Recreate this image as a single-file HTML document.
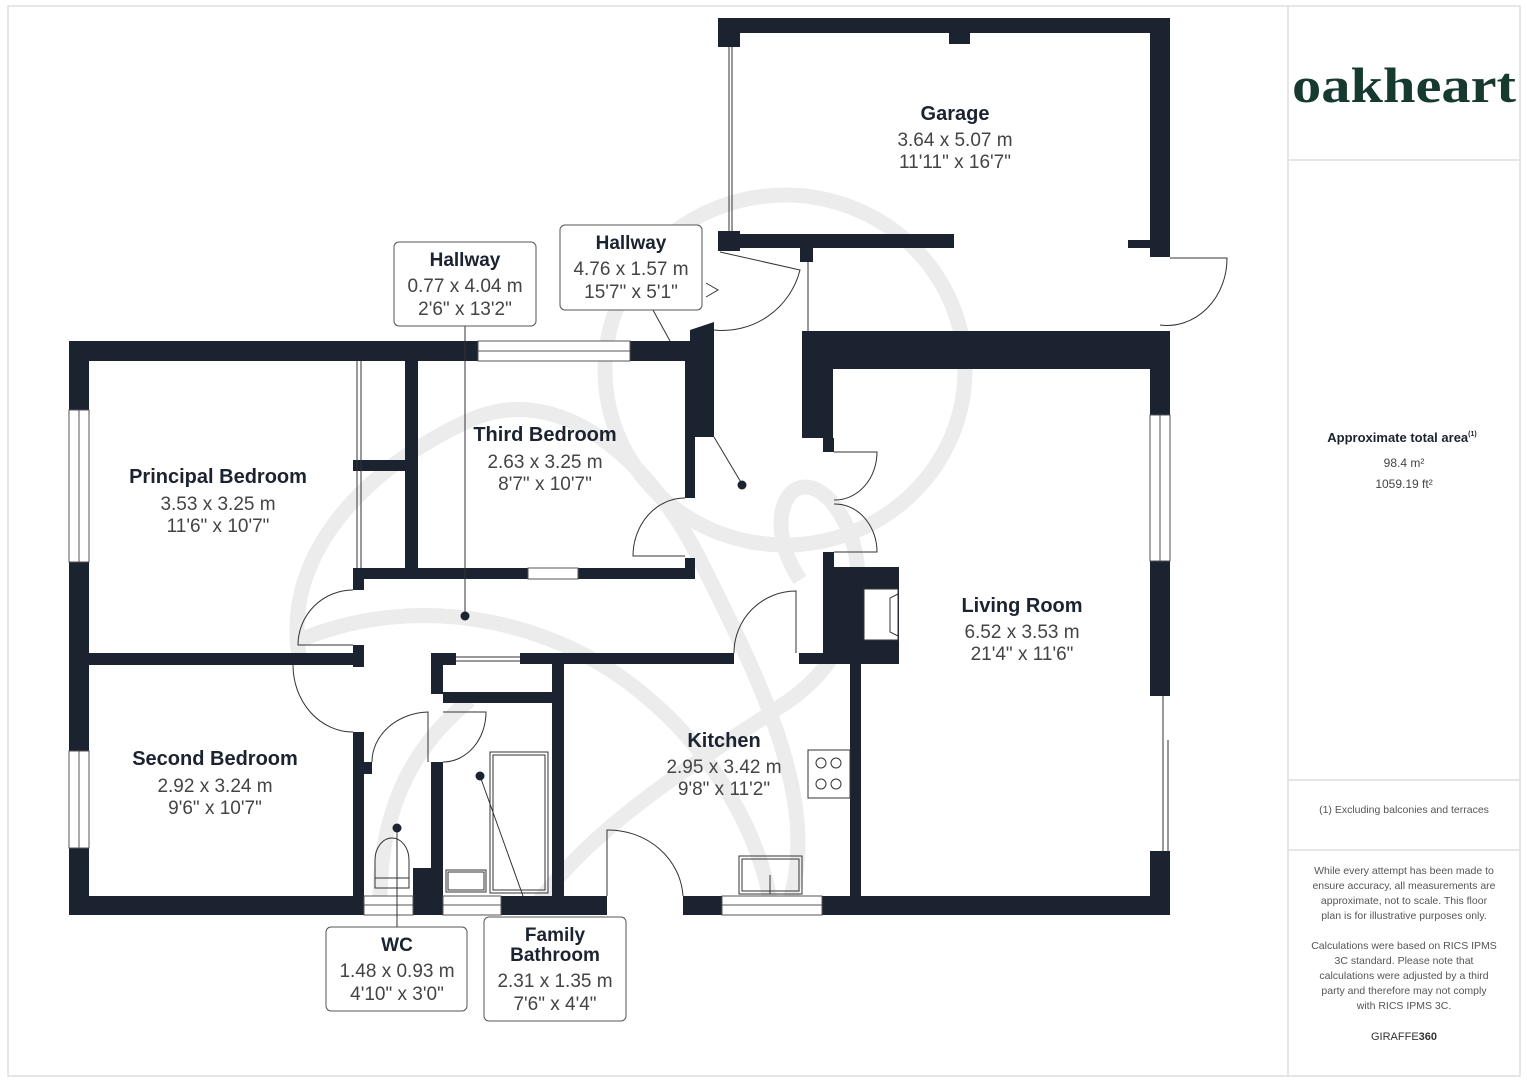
<!DOCTYPE html>
<html><head><meta charset="utf-8"><style>
html,body{margin:0;padding:0;background:#fff}
svg{display:block}
.b{font-family:"Liberation Sans",sans-serif;font-weight:bold;fill:#1b2330;text-anchor:middle}
.d{font-family:"Liberation Sans",sans-serif;fill:#444;text-anchor:middle}
.s{font-family:"Liberation Sans",sans-serif;fill:#555;text-anchor:middle;font-size:10.5px}
</style></head><body>
<svg width="1527" height="1080" viewBox="0 0 1527 1080" xmlns="http://www.w3.org/2000/svg">
<rect x="8" y="6" width="1512" height="1070" fill="none" stroke="#ddd" stroke-width="1.5"/>
<line x1="1288" y1="6" x2="1288" y2="1076" stroke="#ddd" stroke-width="1.5"/>
<line x1="1288" y1="160" x2="1520" y2="160" stroke="#ddd" stroke-width="1.5"/>
<line x1="1288" y1="780" x2="1520" y2="780" stroke="#ddd" stroke-width="1.5"/>
<line x1="1288" y1="850" x2="1520" y2="850" stroke="#ddd" stroke-width="1.5"/>

<!-- watermark -->
<g fill="none" stroke="#ececec" stroke-width="15">
<ellipse cx="785" cy="370" rx="180" ry="175"/>
<path d="M300,660 C280,560 360,470 470,420 C560,380 650,460 700,560 C760,680 820,800 790,900"/>
<path d="M300,640 C420,590 560,620 650,700 C720,760 760,840 770,900"/>
<path d="M540,900 C600,820 700,760 790,700 C860,650 880,560 830,500 C790,460 760,520 800,580"/>
<path d="M380,900 C380,800 420,740 470,700"/>
</g>

<g fill="#1b2330">
<rect x="718" y="18" width="452" height="15"/>
<rect x="718" y="18" width="22" height="29"/>
<rect x="949" y="33" width="21" height="11"/>
<rect x="718" y="231" width="22" height="20"/>
<rect x="740" y="234" width="214" height="14"/>
<rect x="1150" y="18" width="20" height="239"/>
<rect x="1128" y="240" width="22" height="8"/>
<rect x="800" y="248" width="13" height="14"/>
<rect x="802" y="331" width="368" height="38"/>
<rect x="802" y="331" width="31" height="107"/>
<rect x="823" y="438" width="11" height="14"/>
<rect x="1150" y="331" width="20" height="84"/>
<rect x="1150" y="561" width="20" height="135"/>
<rect x="1150" y="851" width="20" height="64"/>
<rect x="823" y="552" width="11" height="15"/>
<rect x="823" y="567" width="76" height="97"/>
<rect x="850" y="664" width="11" height="251"/>
<rect x="799" y="653" width="24" height="11"/>
<rect x="69" y="341" width="409" height="20"/>
<rect x="630" y="341" width="84" height="20"/>
<rect x="69" y="341" width="20" height="69"/>
<rect x="69" y="562" width="20" height="189"/>
<rect x="69" y="848" width="20" height="67"/>
<rect x="69" y="896" width="295" height="19"/>
<rect x="405" y="361" width="13" height="207"/>
<rect x="353" y="460" width="52" height="11"/>
<rect x="353" y="568" width="175" height="11"/>
<rect x="578" y="568" width="117" height="11"/>
<rect x="685" y="361" width="10" height="137"/>
<rect x="685" y="558" width="10" height="21"/>
<path d="M690,330 L714,322 L714,437 L695,437 L695,361 L690,361Z"/>
<rect x="353" y="568" width="11" height="22"/>
<rect x="69" y="653" width="295" height="12"/>
<rect x="353" y="645" width="11" height="22"/>
<rect x="353" y="732" width="11" height="183"/>
<rect x="364" y="762" width="8" height="12"/>
<rect x="431" y="653" width="12" height="41"/>
<rect x="431" y="653" width="25" height="12"/>
<rect x="520" y="653" width="214" height="11"/>
<rect x="443" y="692" width="121" height="11"/>
<rect x="552" y="653" width="12" height="262"/>
<rect x="431" y="762" width="12" height="153"/>
<rect x="413" y="868" width="30" height="47"/>
<rect x="501" y="896" width="106" height="19"/>
<rect x="683" y="896" width="39" height="19"/>
<rect x="822" y="896" width="348" height="19"/>
</g>

<g fill="#fff" stroke="#555" stroke-width="1">
<rect x="478" y="341" width="152" height="20"/>
<line x1="478" y1="351" x2="630" y2="351"/>
<rect x="528" y="568" width="50" height="11"/>
<rect x="69" y="410" width="20" height="152"/>
<line x1="79" y1="410" x2="79" y2="562"/>
<rect x="69" y="751" width="20" height="97"/>
<line x1="79" y1="751" x2="79" y2="848"/>
<rect x="1150" y="415" width="20" height="146"/>
<line x1="1160" y1="415" x2="1160" y2="561"/>
<rect x="364" y="896" width="49" height="19"/>
<line x1="364" y1="905" x2="413" y2="905"/>
<rect x="443" y="896" width="58" height="19"/>
<line x1="443" y1="905" x2="501" y2="905"/>
<rect x="722" y="896" width="100" height="19"/>
<line x1="722" y1="905" x2="822" y2="905"/>
</g>

<g fill="none" stroke="#333" stroke-width="1">
<line x1="729" y1="47" x2="729" y2="231"/><line x1="732" y1="47" x2="732" y2="231"/>
<line x1="808" y1="262" x2="808" y2="331"/>
<line x1="357" y1="361" x2="357" y2="568"/><line x1="361" y1="361" x2="361" y2="568"/>
<line x1="456" y1="657" x2="520" y2="657"/><line x1="456" y1="661" x2="520" y2="661"/>
<line x1="1163" y1="696" x2="1163" y2="851"/><line x1="1168" y1="740" x2="1168" y2="851"/>
<path d="M1170,258 L1227,258 A60,67 0 0 1 1160,325"/>
<path d="M720,252 L800,270 A80,80 0 0 1 714,330"/>
<path d="M834,452 L877,452 A42,48 0 0 1 834,500"/>
<path d="M834,552 L877,552 A42,48 0 0 0 834,504"/>
<path d="M685,498 A52,58 0 0 0 633,556 L685,556"/>
<path d="M353,590 A55,55 0 0 0 298,645 L353,645"/>
<path d="M293,665 A60,67 0 0 0 353,732"/>
<path d="M734,653 A62,62 0 0 1 796,591 L796,653"/>
<path d="M372,762 A58,50 0 0 1 428,712 L428,762"/>
<path d="M443,712 L486,712 A43,50 0 0 1 443,762"/>
<path d="M607,896 L607,830 A75,70 0 0 1 683,896"/>
<path d="M375,888 L375,860 A17,22 0 0 1 409,860 L409,888Z"/>
<line x1="375" y1="878" x2="409" y2="878"/>
<rect x="490" y="752" width="58" height="141"/><rect x="493" y="755" width="52" height="135"/>
<rect x="446" y="870" width="40" height="22"/><rect x="448" y="872" width="36" height="18"/>
<rect x="739" y="856" width="63" height="38"/><rect x="742" y="859" width="57" height="32"/>
<line x1="770" y1="875" x2="770" y2="894"/>
<rect x="808" y="750" width="42" height="48"/>
<circle cx="821" cy="763" r="5"/><circle cx="836" cy="763" r="5"/>
<circle cx="821" cy="784" r="5"/><circle cx="836" cy="784" r="5"/>
<rect x="864" y="589" width="34" height="51" fill="#fff"/>
<path d="M898,594 L890,598 L890,632 L898,636"/>
<line x1="465" y1="326" x2="465" y2="616"/>
<line x1="653" y1="310" x2="670" y2="341"/>
<line x1="714" y1="437" x2="742" y2="484"/>
<line x1="480" y1="776" x2="523" y2="896"/>
<line x1="397" y1="828" x2="397" y2="927"/>
<path d="M706,283 L718,290 L706,297"/>
</g>
<g fill="#1b2330">
<circle cx="465" cy="616" r="4.5"/><circle cx="742" cy="485" r="4.5"/>
<circle cx="480" cy="776" r="4.5"/><circle cx="397" cy="828" r="4.5"/>
</g>

<text class="b" x="955" y="120" font-size="20">Garage</text>
<text class="d" x="955" y="146" font-size="19">3.64 x 5.07 m</text>
<text class="d" x="955" y="168" font-size="19">11'11" x 16'7"</text>
<text class="b" x="545" y="441" font-size="20">Third Bedroom</text>
<text class="d" x="545" y="468" font-size="19">2.63 x 3.25 m</text>
<text class="d" x="545" y="490" font-size="19">8'7" x 10'7"</text>
<text class="b" x="218" y="483" font-size="20">Principal Bedroom</text>
<text class="d" x="218" y="510" font-size="19">3.53 x 3.25 m</text>
<text class="d" x="218" y="532" font-size="19">11'6" x 10'7"</text>
<text class="b" x="215" y="765" font-size="20">Second Bedroom</text>
<text class="d" x="215" y="792" font-size="19">2.92 x 3.24 m</text>
<text class="d" x="215" y="814" font-size="19">9'6" x 10'7"</text>
<text class="b" x="724" y="747" font-size="20">Kitchen</text>
<text class="d" x="724" y="773" font-size="19">2.95 x 3.42 m</text>
<text class="d" x="724" y="795" font-size="19">9'8" x 11'2"</text>
<text class="b" x="1022" y="612" font-size="20">Living Room</text>
<text class="d" x="1022" y="638" font-size="19">6.52 x 3.53 m</text>
<text class="d" x="1022" y="660" font-size="19">21'4" x 11'6"</text>

<g fill="#fff" stroke="#555" stroke-width="1">
<rect x="394" y="242" width="142" height="84" rx="5"/>
<rect x="560" y="225" width="142" height="85" rx="5"/>
<rect x="326" y="927" width="141" height="84" rx="5"/>
<rect x="484" y="917" width="142" height="104" rx="5"/>
</g>
<text class="b" x="465" y="266" font-size="19">Hallway</text>
<text class="d" x="465" y="292" font-size="19">0.77 x 4.04 m</text>
<text class="d" x="465" y="315" font-size="19">2'6" x 13'2"</text>
<text class="b" x="631" y="249" font-size="19">Hallway</text>
<text class="d" x="631" y="275" font-size="19">4.76 x 1.57 m</text>
<text class="d" x="631" y="298" font-size="19">15'7" x 5'1"</text>
<text class="b" x="397" y="951" font-size="19">WC</text>
<text class="d" x="397" y="977" font-size="19">1.48 x 0.93 m</text>
<text class="d" x="397" y="1000" font-size="19">4'10" x 3'0"</text>
<text class="b" x="555" y="941" font-size="19">Family</text>
<text class="b" x="555" y="961" font-size="19">Bathroom</text>
<text class="d" x="555" y="987" font-size="19">2.31 x 1.35 m</text>
<text class="d" x="555" y="1010" font-size="19">7'6" x 4'4"</text>

<text x="1404" y="102" font-family="Liberation Serif,serif" font-weight="bold" font-size="50" fill="#163a30" text-anchor="middle" textLength="224" lengthAdjust="spacingAndGlyphs">oakheart</text>
<text class="b" x="1402" y="442" font-size="13">Approximate total area<tspan font-size="7" dy="-6">(1)</tspan></text>
<text class="d" x="1404" y="467" font-size="12">98.4 m²</text>
<text class="d" x="1404" y="488" font-size="12">1059.19 ft²</text>
<text class="s" x="1404" y="813">(1) Excluding balconies and terraces</text>
<text class="s" x="1404" y="874">While every attempt has been made to</text>
<text class="s" x="1404" y="889">ensure accuracy, all measurements are</text>
<text class="s" x="1404" y="904">approximate, not to scale. This floor</text>
<text class="s" x="1404" y="919">plan is for illustrative purposes only.</text>
<text class="s" x="1404" y="949">Calculations were based on RICS IPMS</text>
<text class="s" x="1404" y="964">3C standard. Please note that</text>
<text class="s" x="1404" y="979">calculations were adjusted by a third</text>
<text class="s" x="1404" y="994">party and therefore may not comply</text>
<text class="s" x="1404" y="1009">with RICS IPMS 3C.</text>
<text x="1404" y="1040" font-family="Liberation Sans,sans-serif" font-size="11" fill="#333" text-anchor="middle">GIRAFFE<tspan font-weight="bold">360</tspan></text>
</svg>
</body></html>
